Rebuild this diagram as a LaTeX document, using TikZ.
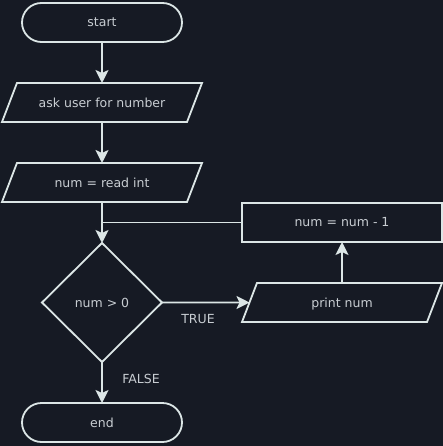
\documentclass[tikz,border=0pt]{standalone}
\usepackage{fontspec}
\setmainfont{DejaVu Sans}
\usetikzlibrary{shapes.geometric,shapes.misc,arrows.meta}
\definecolor{bgcol}{HTML}{161A24}
\definecolor{linecol}{HTML}{DCE6E6}
\definecolor{textcol}{HTML}{C8CDD2}

\begin{document}
\begin{tikzpicture}[x=1pt,y=-1pt,
  every node/.style={text=textcol,font=\fontsize{12.5}{15}\selectfont},
  box/.style={draw=linecol,line width=1.8pt,inner sep=0pt,outer sep=0pt},
  term/.style={box,rounded rectangle,minimum width=160pt,minimum height=39pt},
  io/.style={box,trapezium,trapezium left angle=69,trapezium right angle=111,trapezium stretches body,text height=24.25pt,text depth=14.75pt,minimum width=200pt},
  proc/.style={box,rectangle,minimum width=200pt,minimum height=39pt},
  cond/.style={box,diamond,aspect=1,minimum width=120pt,minimum height=119pt},
  arr/.style={draw=linecol,line width=1.8pt,-{Stealth[length=13pt,width=13pt,inset=3pt]}},
  plain/.style={draw=linecol,line width=1.8pt}]
\fill[bgcol] (0,0) rectangle (443,446);
% boxes
\node[term] (start) at (102,22.5) {start};
\node[io] (ask) at (102,102.5) {ask user for number};
\node[io] (read) at (102,182.5) {num = read int};
\node[cond] (test) at (102,302.5) {num > 0};
\node[proc] (dec) at (342,222.5) {num = num - 1};
\node[io] (print) at (342,302.5) {print num};
\node[term] (end) at (102,422.5) {end};
% connectors
\draw[arr] (start) -- (ask);
\draw[arr] (ask) -- (read);
\draw[arr] (read) -- (test);
\draw[plain] (dec.west) -- (read.south |- dec.west);
\draw[arr] (test.east) -- (print.west);
\draw[arr] (print) -- (dec);
\draw[arr] (test) -- (end);
\node (true) at (198,319) {TRUE};
\node (false) at (141,379) {FALSE};
\end{tikzpicture}
\end{document}
